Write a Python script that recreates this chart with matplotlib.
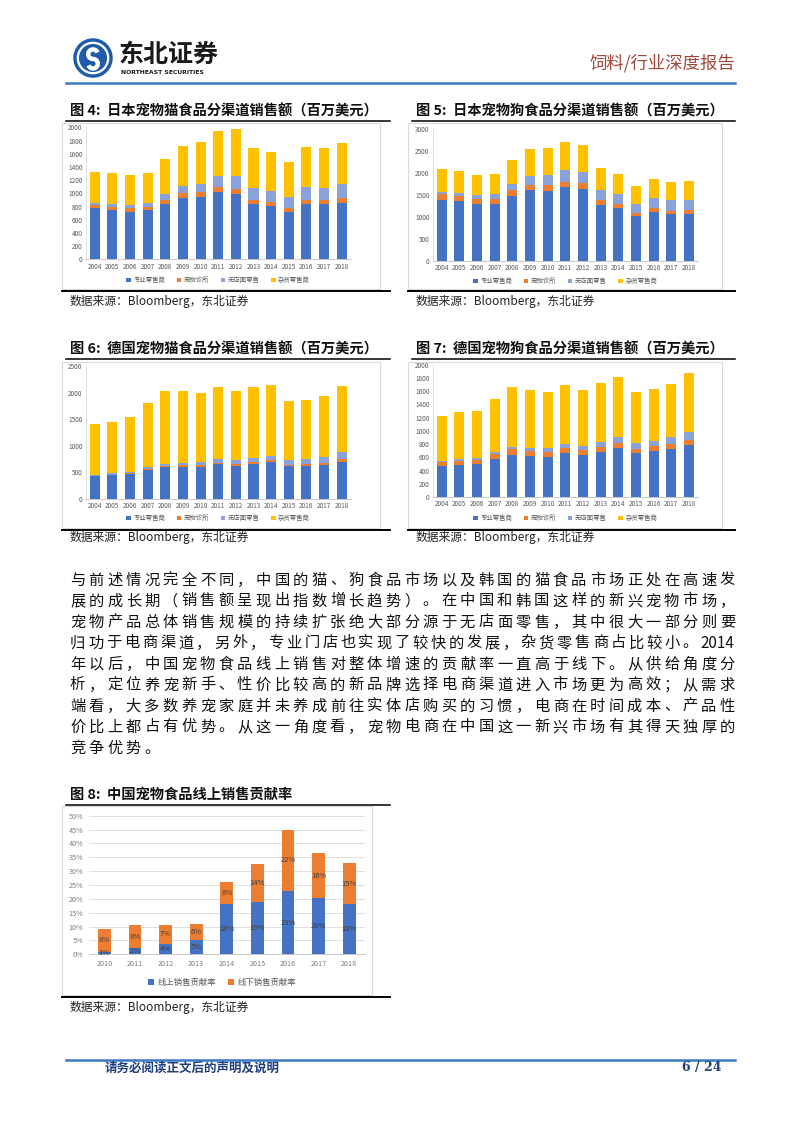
import matplotlib
matplotlib.use("Agg")
import matplotlib.pyplot as plt
from matplotlib.lines import Line2D
from matplotlib.patches import Rectangle, Circle, Arc
import numpy as np

plt.rcParams["font.family"] = ["Noto Sans CJK SC", "DejaVu Sans"]

W, H = 802, 1133

years = [str(y) for y in range(2004, 2019)]
channels = ["专业零售商", "宠物诊所", "无店面零售", "杂货零售商"]
colors = ["#4472C4", "#ED7D31", "#8AA2DA", "#FFC000"]

# 图4 日本猫食品
jp_cat_specialist = [770, 745, 715, 740, 840, 935, 945, 1015, 990, 840, 805, 720, 840, 835, 860]
jp_cat_vet = [60, 55, 55, 50, 60, 65, 70, 80, 80, 60, 60, 55, 60, 60, 65]
jp_cat_store_less = [30, 45, 55, 60, 85, 110, 130, 170, 190, 180, 175, 165, 190, 190, 210]
jp_cat_grocery = [460, 465, 445, 450, 530, 610, 625, 675, 715, 600, 585, 540, 605, 605, 630]

# 图5 日本狗食品
jp_dog_specialist = [1380, 1350, 1290, 1290, 1470, 1600, 1590, 1670, 1640, 1280, 1200, 1010, 1100, 1060, 1060]
jp_dog_vet = [130, 130, 110, 110, 130, 130, 130, 130, 120, 100, 90, 80, 90, 80, 90]
jp_dog_store_less = [60, 70, 100, 110, 150, 200, 240, 270, 260, 240, 220, 210, 240, 240, 230]
jp_dog_grocery = [520, 500, 460, 470, 550, 620, 600, 640, 620, 490, 460, 400, 430, 410, 440]

# 图6 德国猫食品
de_cat_specialist = [420, 440, 460, 540, 600, 600, 600, 650, 620, 660, 690, 610, 620, 640, 700]
de_cat_vet = [15, 15, 20, 20, 25, 30, 30, 30, 30, 30, 30, 30, 30, 40, 50]
de_cat_store_less = [15, 20, 25, 30, 35, 50, 60, 60, 70, 80, 90, 90, 100, 110, 130]
de_cat_grocery = [960, 975, 1025, 1210, 1370, 1340, 1300, 1370, 1310, 1330, 1340, 1120, 1110, 1150, 1250]

# 图7 德国狗食品
de_dog_specialist = [470, 490, 500, 580, 640, 620, 610, 660, 630, 680, 740, 660, 700, 720, 780]
de_dog_vet = [60, 60, 60, 70, 80, 70, 70, 80, 80, 80, 80, 70, 70, 80, 80]
de_dog_store_less = [15, 20, 25, 30, 30, 50, 60, 60, 60, 70, 80, 80, 80, 100, 120]
de_dog_grocery = [680, 710, 715, 800, 910, 880, 850, 900, 850, 900, 910, 780, 790, 810, 890]

# 图8 中国线上/线下贡献率 (%)
cn_years = [str(y) for y in range(2010, 2019)]
cn_online = [1.0, 2.3, 3.6, 5.2, 18.2, 18.8, 22.8, 20.3, 18.2]
cn_offline = [8.3, 8.2, 7.1, 5.9, 7.9, 13.9, 22.2, 16.2, 14.6]
cn_labels = ["线上销售贡献率", "线下销售贡献率"]

paragraph = [
    "与前述情况完全不同，中国的猫、狗食品市场以及韩国的猫食品市场正处在高速发",
    "展的成长期（销售额呈现出指数增长趋势）。在中国和韩国这样的新兴宠物市场，",
    "宠物产品总体销售规模的持续扩张绝大部分源于无店面零售，其中很大一部分则要",
    "归功于电商渠道，另外，专业门店也实现了较快的发展，杂货零售商占比较小。2014",
    "年以后，中国宠物食品线上销售对整体增速的贡献率一直高于线下。从供给角度分",
    "析，定位养宠新手、性价比较高的新品牌选择电商渠道进入市场更为高效；从需求",
    "端看，大多数养宠家庭并未养成前往实体店购买的习惯，电商在时间成本、产品性",
    "价比上都占有优势。从这一角度看，宠物电商在中国这一新兴市场有其得天独厚的",
    "竞争优势。",
]

fig = plt.figure(figsize=(W / 100, H / 100), dpi=100)


def fx(x):
    return x / W


def fy(y):
    return 1 - y / H


def add_ax(x0, y0, x1, y1):
    return fig.add_axes([x0 / W, 1 - y1 / H, (x1 - x0) / W, (y1 - y0) / H])


def hline(x0, x1, y, color="black", lw=1.0):
    fig.add_artist(Line2D([fx(x0), fx(x1)], [fy(y), fy(y)], color=color, lw=lw))


def box(x0, y0, x1, y1):
    fig.add_artist(Rectangle((fx(x0), fy(y1)), (x1 - x0) / W, (y1 - y0) / H,
                             fill=False, edgecolor="#D9D9D9", lw=0.8))


def channel_chart(rect, series, ymax, ystep, legend_y):
    ax = add_ax(*rect)
    x = np.arange(len(years))
    bottom = np.zeros(len(years))
    for vals, c, name in zip(series, colors, channels):
        ax.bar(x, vals, 0.57, bottom=bottom, color=c, label=name)
        bottom += np.array(vals)
    ax.set_xlim(-0.5, len(years) - 0.5)
    ax.set_ylim(0, ymax)
    ax.set_yticks(np.arange(0, ymax + 1, ystep))
    ax.set_xticks(x)
    ax.set_xticklabels(years)
    ax.tick_params(length=0, labelsize=4.6, colors="#595959", pad=2.5)
    for s in ["top", "right"]:
        ax.spines[s].set_visible(False)
    ax.spines["left"].set_color("#D9D9D9")
    ax.spines["bottom"].set_color("#BFBFBF")
    ax.spines["left"].set_linewidth(0.6)
    ax.spines["bottom"].set_linewidth(0.6)
    ax.set_facecolor("none")
    cx = (rect[0] + rect[2]) / 2
    ax.legend(loc="center", bbox_to_anchor=(fx(cx), fy(legend_y)), bbox_transform=fig.transFigure,
              ncol=4, frameon=False, fontsize=4.6, handlelength=0.7, handleheight=0.7,
              handletextpad=0.4, columnspacing=1.8, labelcolor="#595959")
    return ax


# ---- header ----
logo = add_ax(73, 38, 113, 78)
logo.set_xlim(-1.05, 1.05)
logo.set_ylim(-1.05, 1.05)
logo.set_aspect("equal")
logo.axis("off")
logo.add_patch(Circle((0, 0), 1.0, color="#1F5BA8"))
logo.add_patch(Circle((0, 0), 0.82, color="white"))
logo.add_patch(Circle((0, 0), 0.70, color="#1F5BA8"))
logo.add_patch(Arc((0, 0.2), 0.5, 0.5, theta1=20, theta2=270, color="white", lw=3.2))
logo.add_patch(Arc((0, -0.3), 0.5, 0.5, theta1=200, theta2=90, color="white", lw=3.2))

fig.text(fx(119), fy(55), "东北证券", fontsize=18, fontweight="bold", color="#1A1A1A", va="center", ha="left")
fig.text(fx(121), fy(73), "NORTHEAST SECURITIES", fontsize=4.4, fontweight="bold", color="#1A1A1A",
         va="center", ha="left", family="DejaVu Sans")
fig.text(fx(735), fy(63), "饲料/行业深度报告", fontsize=12.5, color="#A0473A", va="center", ha="right")
hline(66, 735, 83, color="#3A78C3", lw=1.8)


# ---- figure titles / frames ----
def fig_block(x_src, x0, x1, title_y, box_x1, box_y0, box_y1, src_y):
    hline(x0, x1, title_y + 10, lw=1.1)
    box(x0 - 4, box_y0, box_x1, box_y1)
    hline(x0 - 4, x1, box_y1 + 2, lw=1.4)
    fig.text(fx(x_src), fy(src_y), "数据来源：Bloomberg，东北证券", fontsize=8.5, color="#222222",
             va="center", ha="left")


titles = [
    (70, 111, "图 4:  日本宠物猫食品分渠道销售额（百万美元）"),
    (416, 111, "图 5:  日本宠物狗食品分渠道销售额（百万美元）"),
    (70, 349, "图 6:  德国宠物猫食品分渠道销售额（百万美元）"),
    (416, 349, "图 7:  德国宠物狗食品分渠道销售额（百万美元）"),
    (70, 795, "图 8:  中国宠物食品线上销售贡献率"),
]
for tx, ty, t in titles:
    fig.text(fx(tx), fy(ty), t, fontsize=10.3, fontweight="bold", color="#111111", va="center", ha="left")

fig_block(70, 66, 390, 111, 380, 123, 289, 301)
fig_block(416, 412, 735, 111, 722, 123, 289, 301)
fig_block(70, 66, 390, 349, 380, 362, 528, 538)
fig_block(416, 412, 735, 349, 722, 362, 528, 538)

# Chart 8 frame
hline(66, 390, 805, lw=1.1)
box(62, 806, 372, 995)
hline(62, 390, 997, lw=1.4)
fig.text(fx(70), fy(1008), "数据来源：Bloomberg，东北证券", fontsize=8.5, color="#222222", va="center", ha="left")

# ---- stacked channel charts ----
channel_chart((85.9, 127.3, 350.5, 259.3),
              [jp_cat_specialist, jp_cat_vet, jp_cat_store_less, jp_cat_grocery], 2000, 200, 280)
channel_chart((432.9, 129, 697.8, 260.7),
              [jp_dog_specialist, jp_dog_vet, jp_dog_store_less, jp_dog_grocery], 3000, 500, 281)
channel_chart((85.9, 366, 350.5, 498.7),
              [de_cat_specialist, de_cat_vet, de_cat_store_less, de_cat_grocery], 2500, 500, 518)
channel_chart((432.9, 364.7, 697.8, 497),
              [de_dog_specialist, de_dog_vet, de_dog_store_less, de_dog_grocery], 2000, 200, 518)

# ---- chart 8 ----
ax8 = add_ax(89, 815.7, 364.6, 954.3)
x8 = np.arange(len(cn_years))
ax8.bar(x8, cn_online, 0.42, color="#4472C4", label=cn_labels[0], zorder=3)
ax8.bar(x8, cn_offline, 0.42, bottom=cn_online, color="#ED7D31", label=cn_labels[1], zorder=3)
for i in range(len(cn_years)):
    ax8.text(i, cn_online[i] / 2, f"{cn_online[i]:.0f}%", ha="center", va="center", fontsize=5.5,
             color="#404040", zorder=4)
    ax8.text(i, cn_online[i] + cn_offline[i] / 2, f"{cn_offline[i]:.0f}%", ha="center", va="center",
             fontsize=5.5, color="#404040", zorder=4)
ax8.set_xlim(-0.5, len(cn_years) - 0.5)
ax8.set_ylim(0, 50)
ax8.set_yticks(np.arange(0, 51, 5))
ax8.set_yticklabels([f"{v}%" for v in range(0, 51, 5)])
ax8.set_xticks(x8)
ax8.set_xticklabels(cn_years)
ax8.tick_params(length=0, labelsize=5.2, colors="#7F7F7F", pad=4)
ax8.grid(axis="y", color="#D9D9D9", lw=0.6, zorder=0)
for s in ["top", "right", "left"]:
    ax8.spines[s].set_visible(False)
ax8.spines["bottom"].set_color("#BFBFBF")
ax8.spines["bottom"].set_linewidth(0.6)
ax8.set_facecolor("none")
ax8.legend(loc="center", bbox_to_anchor=(fx(222), fy(982)), bbox_transform=fig.transFigure, ncol=2,
           frameon=False, fontsize=6, handlelength=0.7, handleheight=0.7, handletextpad=0.4,
           columnspacing=1.5, labelcolor="#595959")

# ---- paragraph, justified ----
fs = 11
fs_px = fs * 100 / 72


def tokens_of(line):
    toks = []
    buf = ""
    for ch in line:
        if ch.isascii() and ch.isalnum():
            buf += ch
        else:
            if buf:
                toks.append(buf)
                buf = ""
            toks.append(ch)
    if buf:
        toks.append(buf)
    return toks


def tok_width(t):
    if t.isascii():
        return 0.56 * fs_px * len(t)
    return fs_px


x_left, x_right = 70, 735
pitch = None
for i, line in enumerate(paragraph):
    y = 580 + i * 21
    toks = tokens_of(line)
    widths = [tok_width(t) for t in toks]
    if i < len(paragraph) - 1:
        gap = (x_right - x_left - sum(widths)) / (len(toks) - 1)
        pitch = gap
    else:
        gap = pitch
    x = x_left
    for t, w in zip(toks, widths):
        fig.text(fx(x), fy(y), t, fontsize=fs, color="#111111", va="center", ha="left")
        x += w + gap

# ---- footer ----
hline(66, 735, 1060, color="#3A78C3", lw=1.8)
fig.text(fx(105), fy(1068), "请务必阅读正文后的声明及说明", fontsize=9, fontweight="bold", color="#1F3F7F",
         va="center", ha="left")
fig.text(fx(722), fy(1068), "6 / 24", fontsize=9, fontweight="bold", color="#1F3F7F", va="center",
         ha="right", family="DejaVu Serif")

fig.savefig("out.png", dpi=100)
